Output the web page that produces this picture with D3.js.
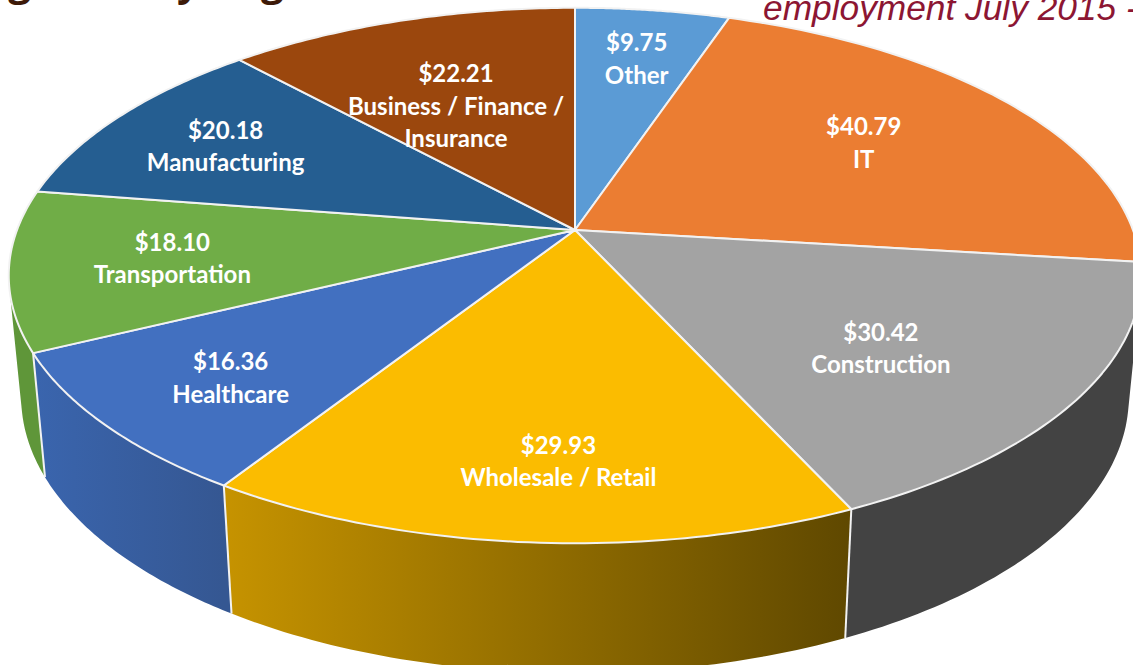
<!DOCTYPE html>
<html lang="en">
  <head>
    <meta charset="UTF-8" />
    <title>Average hourly wage by sector</title>
    <script src="https://d3js.org/d3.v7.min.js"></script>
    <style>
      html,
      body {
        margin: 0;
        padding: 0;
        background-color: white;
        overflow: hidden;
      }
      .slice-label {
        font-family: Lato, sans-serif;
        font-weight: bold;
        font-size: 24px;
        fill: white;
        text-anchor: middle;
      }
    </style>
  </head>
  <body>
    <svg id="chart"></svg>
    <script>
      const categories = [
        "Other",
        "IT",
        "Construction",
        "Wholesale / Retail",
        "Healthcare",
        "Transportation",
        "Manufacturing",
        "Business / Finance / Insurance",
      ];
      const wages = [9.75, 40.79, 30.42, 29.93, 16.36, 18.1, 20.18, 22.21];
      const topColors = ["#5b9bd5", "#eb7d32", "#a3a3a3", "#fbbc00", "#4270c0", "#70ad47", "#255e91", "#9b470d"];
      const sideFrom = { Construction: "#434343", "Wholesale / Retail": "#c69300", Healthcare: "#3a65ae", Transportation: "#5f9639" };
      const sideTo = { Construction: "#434343", "Wholesale / Retail": "#5f4800", Healthcare: "#355792", Transportation: "#5f9639" };
      // wrapped label lines, the long name doesn't fit the slice on one row
      const labelLines = {
        "Business / Finance / Insurance": ["Business / Finance /", "Insurance"],
      };

      const width = 1133;
      const height = 665;
      const cx = 575;
      const cy = 230;

      // where the label block sits: radius fraction along the slice middle, then a nudge
      const labelRadius = [0.74, 0.6, 0.6, 0.62, 0.65, 0.72, 0.7, 0.72];
      const labelNudge = [[2, -10], [20, -16], [18, 13], [10, 44], [-52, 19], [2, -8], [-23, -10], [12, 9]];

      const svg = d3.select("#chart").attr("width", width).attr("height", height);
      const defs = svg.append("defs");

      // tilted disc: the circle goes through a perspective divide so the
      // far half gets squeezed, same as the 3D pie in the spreadsheet
      function project(angle, r = 1) {
        const u = r * Math.sin(angle);
        const v = -r * Math.cos(angle);
        const w = 1 - 0.17 * v;
        return [cx + (558 * u) / w, cy + (260 * v) / w];
      }

      // lower rim of the disc
      function dropped([x, y]) {
        return [cx + (x - cx) * 0.978, y * 1.03 + 113.5];
      }

      const pie = d3.pie().sort(null).value((d) => d.wage);
      const slices = pie(
        categories.map((name, i) => ({
          name,
          wage: wages[i],
          color: topColors[i],
          r: labelRadius[i],
          nudge: labelNudge[i],
        }))
      );
      const line = d3.line();

      const arcPoints = (d) => d3.range(0, 61).map((i) => project(d.startAngle + ((d.endAngle - d.startAngle) * i) / 60));

      // Side walls first, the top face paints over what should be hidden
      const walls = slices.filter((d) => sideFrom[d.data.name]);
      walls.forEach((d, i) => {
        const xs = arcPoints(d).map((p) => p[0]);
        const grad = defs
          .append("linearGradient")
          .attr("id", "wall" + i)
          .attr("gradientUnits", "userSpaceOnUse")
          .attr("x1", d3.min(xs))
          .attr("x2", d3.max(xs))
          .attr("y1", 0)
          .attr("y2", 0);
        grad.append("stop").attr("offset", 0).attr("stop-color", sideFrom[d.data.name]);
        grad.append("stop").attr("offset", 1).attr("stop-color", sideTo[d.data.name]);
      });

      // small quads in one path, all wound the same way so nonzero fill
      // keeps the silhouette past the widest point and leaves no seams
      function wallPath(d) {
        return d3
          .pairs(arcPoints(d))
          .map(([a, b]) => {
            const quad = [a, b, dropped(b), dropped(a)];
            if (d3.polygonArea(quad) < 0) quad.reverse();
            return line(quad) + "Z";
          })
          .join("");
      }

      svg
        .append("g")
        .selectAll("path")
        .data(walls)
        .enter()
        .append("path")
        .attr("d", wallPath)
        .attr("fill", (d, i) => `url(#wall${i})`);

      // white seams between the walls
      svg
        .append("g")
        .selectAll("path")
        .data(walls)
        .enter()
        .append("path")
        .attr("d", (d) => {
          const a = project(d.endAngle);
          return line([a, dropped(a)]);
        })
        .attr("stroke", "#f2f2f2")
        .attr("stroke-width", 2)
        .attr("fill", "none");

      // Top face
      svg
        .append("g")
        .selectAll("path")
        .data(slices)
        .enter()
        .append("path")
        .attr("d", (d) => line([[cx, cy], ...arcPoints(d)]) + "Z")
        .attr("fill", (d) => d.data.color)
        .attr("stroke", "#f2f2f2")
        .attr("stroke-width", 2)
        .attr("stroke-linejoin", "round");

      // Value and category labels
      const label = svg
        .append("g")
        .selectAll("text")
        .data(slices)
        .enter()
        .append("text")
        .attr("class", "slice-label")
        .attr("transform", (d) => {
          const p = project((d.startAngle + d.endAngle) / 2, d.data.r);
          return `translate(${p[0] + d.data.nudge[0]},${p[1] + d.data.nudge[1]})`;
        });

      label.each(function (d) {
        const rows = ["$" + d.data.wage.toFixed(2)].concat(labelLines[d.data.name] || [d.data.name]);
        d3.select(this)
          .selectAll("tspan")
          .data(rows)
          .enter()
          .append("tspan")
          .attr("x", 0)
          .attr("y", (r, i) => i * 32.5)
          .text((r) => r);
      });

      // Slide heading and subtitle, both cut off by the crop of the slide
      const heading = svg
        .append("text")
        .attr("x", -108)
        .attr("y", -4)
        .attr("font-family", "Open Sans, sans-serif")
        .attr("font-weight", "bold")
        .attr("font-size", 40)
        .attr("fill", "#3d1a08");
      heading.append("tspan").text("Average Hourly");
      heading.append("tspan").attr("letter-spacing", -4).text(" Wage");

      svg
        .append("text")
        .attr("x", 763)
        .attr("y", 20)
        .attr("font-family", "Liberation Sans, sans-serif")
        .attr("font-style", "italic")
        .attr("font-size", 35.3)
        .attr("fill", "#8c1633")
        .text("employment July 2015 -");
    </script>
  </body>
</html>
